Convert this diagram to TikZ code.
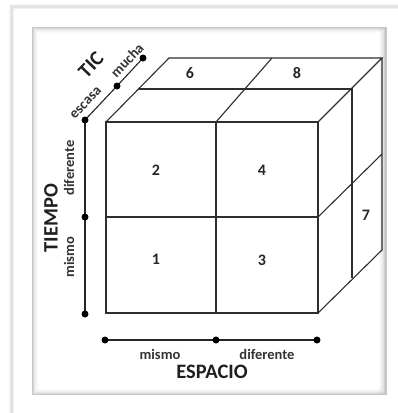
\documentclass[tikz,border=0pt]{standalone}
\usepackage{fontspec}
\setmainfont{Carlito}
\begin{document}
\begin{tikzpicture}[x=1pt,y=-1pt,
  cubeline/.style={line width=1.1pt,draw=black!82,line join=miter},
  axisline/.style={line width=1.1pt,draw=black!85},
  num/.style={font=\fontsize{16}{16}\selectfont\bfseries,text=black!85,inner sep=0pt},
  lbl/.style={font=\fontsize{14.5}{15}\selectfont\bfseries,text=black!80,inner sep=0pt},
  big/.style={font=\fontsize{20.5}{21}\selectfont\bfseries,text=black!88,inner sep=0pt}]
\useasboundingbox (0,0) rectangle (398,413);
\fill[white] (0,0) rectangle (398,413);
% outer page shadow
\foreach \i/\o in {0/0.04,1/0.08,2/0.12,3/0.10,4/0.06}{
  \draw[black,opacity=\o,line width=1pt] (9.5+\i,413) -- (9.5+\i,4.5+\i) -- (398,4.5+\i);
}
% inner panel inset shadow
\foreach \i/\o in {0/0.22,1/0.15,2/0.10,3/0.06,4/0.035,5/0.02}{
  \draw[black,opacity=\o,line width=1pt] (32.5+\i,27.5+\i) rectangle (386.5-\i,394.5-\i);
}
\foreach \i/\o in {1/0.10,2/0.08,3/0.06,4/0.05,5/0.04,6/0.03,7/0.02}{
  \draw[black,opacity=\o,line width=1pt] (386.5-\i,28) -- (386.5-\i,394);
}
% cube coordinates
\coordinate (fa) at (106,122); \coordinate (fb) at (216,122); \coordinate (fc) at (318,122);
\coordinate (fd) at (106,217); \coordinate (fe) at (318,217);
\coordinate (ff) at (106,313); \coordinate (fg) at (216,313); \coordinate (fh) at (318,313);
\coordinate (ma) at (139,89); \coordinate (mb) at (352,89); \coordinate (mc) at (352,278);
\coordinate (ba) at (169,58); \coordinate (bb) at (272,58); \coordinate (bc) at (382,58);
\coordinate (bd) at (382,154); \coordinate (be) at (382,250);
% cube
\draw[cubeline] (fa) rectangle (fh);
\draw[cubeline] (fb) -- (fg);
\draw[cubeline] (fd) -- (fe);
\draw[cubeline] (fa) -- (ba) -- (bc) -- (fc);
\draw[cubeline] (bc) -- (be) -- (fh);
\draw[cubeline] (fb) -- (bb);
\draw[cubeline] (ma) -- (mb) -- (mc);
\draw[cubeline] (fe) -- (bd);
% numbers
\node[num] (n6) at (190,73) {6};
\node[num] (n8) at (297,73) {8};
\node[num] (n2) at (156,170) {2};
\node[num] (n4) at (262,170) {4};
\node[num] (n1) at (156,259) {1};
\node[num] (n3) at (262,260) {3};
\node[num] (n7) at (366,215) {7};
% axes
\coordinate (t0) at (85,120); \coordinate (t1) at (85,217); \coordinate (t2) at (85,314);
\coordinate (c1) at (117,86); \coordinate (c2) at (143,58);
\coordinate (e0) at (105,340); \coordinate (e1) at (216,340); \coordinate (e2) at (317,340);
\draw[axisline] (t0) -- (t1) -- (t2);
\draw[axisline] (t0) -- (c1) -- (c2);
\draw[axisline] (e0) -- (e1) -- (e2);
\foreach \p in {t0,t1,t2,c1,c2,e0,e1,e2}{\fill[black] (\p) circle (3.5pt);}
% labels
\node[lbl] (lm1) at (160,354) {mismo};
\node[lbl] (ld1) at (267,354) {diferente};
\node[big] (lesp) at (212,372) {ESPACIO};
\node[big,rotate=90] (ltie) at (51,218) {TIEMPO};
\node[lbl,rotate=90] (ld2) at (69,168) {diferente};
\node[lbl,rotate=90] (lm2) at (69,257) {mismo};
\node[big,rotate=46] (ltic) at (91,65) {TIC};
\node[lbl,rotate=46] (lmu) at (127,60) {mucha};
\node[lbl,rotate=46] (les) at (86,103) {escasa};
\end{tikzpicture}
\end{document}
